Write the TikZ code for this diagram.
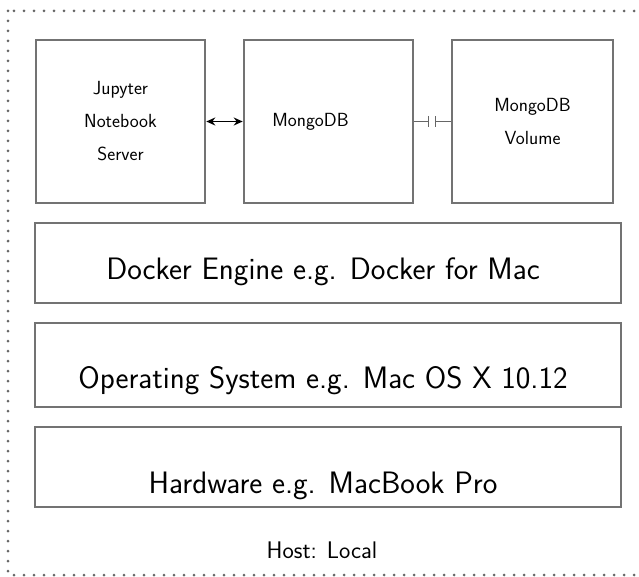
\documentclass[tikz,border=0pt]{standalone}
\usetikzlibrary{arrows.meta}

\tikzset{
  hostbox/.style={draw=black!60,line width=3pt,dash pattern=on 0pt off 10pt,line cap=round},
  appbox/.style={draw=black!55,line width=2.6pt,minimum height=163pt,align=center,
    font=\sffamily\fontsize{19}{33}\selectfont},
  layerbox/.style={draw=black!55,line width=2.6pt,minimum width=586pt,text depth=6pt,
    font=\sffamily\fontsize{31}{36}\selectfont}
}

\begin{document}
\begin{tikzpicture}[>={Stealth[length=9pt,width=8pt]},x=1pt,y=-1pt]
  \useasboundingbox (0,0) rectangle (639,577);
  % host frame
  \draw[hostbox] (8,11) rectangle (642,575);

  % containers
  \node[appbox,minimum width=169pt] (jupyter) at (120.5,121.5) {Jupyter\\Notebook\\Server};
  \node[appbox,minimum width=169pt] (mongo) at (328.5,121.5) {MongoDB\hspace*{36pt}};
  \node[appbox,minimum width=161pt] (volume) at (532.5,121.5) {MongoDB\\Volume};

  % layers
  \node[layerbox,minimum height=80pt,text height=38pt] (docker) at (328,263) {Docker Engine e.g. Docker for Mac\hspace*{10pt}};
  \node[layerbox,minimum height=84pt,text height=52pt] (os) at (328,365) {Operating System e.g. Mac OS X 10.12\hspace*{10pt}};
  \node[layerbox,minimum height=80pt,text height=58pt] (hardware) at (328,467) {Hardware e.g. MacBook Pro\hspace*{10pt}};
  \node[font=\sffamily\fontsize{24}{28}\selectfont] (host) at (322,550) {Host: Local};

  % links
  \draw[<->,line width=1.8pt] (jupyter.east) -- (mongo.west);
  \coordinate (gapL) at (429,121.5);
  \coordinate (gapR) at (435,121.5);
  \draw[-{Bar[width=11pt,line width=1.4pt]},black!60,line width=1.4pt] (mongo.east) -- (gapL);
  \draw[-{Bar[width=11pt,line width=1.4pt]},black!60,line width=1.4pt] (volume.west) -- (gapR);
\end{tikzpicture}
\end{document}
